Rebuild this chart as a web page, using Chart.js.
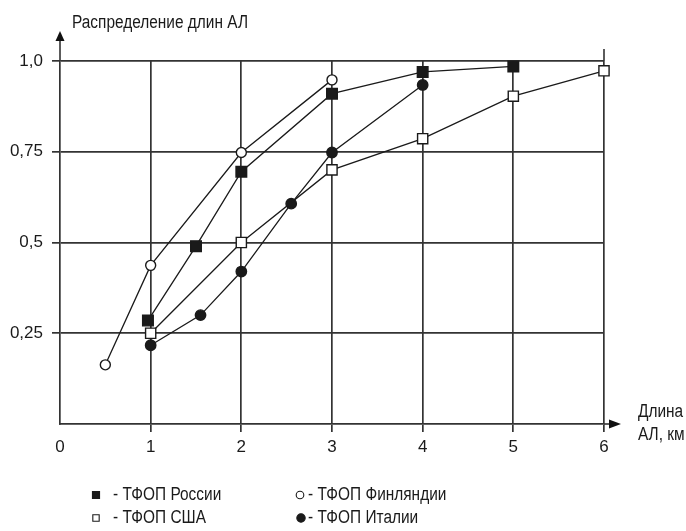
<!DOCTYPE html>
<html>
<head>
<meta charset="utf-8">
<script src="https://cdn.jsdelivr.net/npm/chart.js@4.4.1/dist/chart.umd.min.js"></script>
<style>
  html, body { margin: 0; padding: 0; background: #fff; }
  #chart { display: block; }
</style>
</head>
<body>
<canvas id="chart" width="686" height="531"></canvas>
<script>
// values
var russiaX = [0.97, 1.5, 2, 3, 4, 5];
var russiaY = [0.285, 0.49, 0.695, 0.91, 0.97, 0.985];
var finlandX = [0.5, 1, 2, 3];
var finlandY = [0.163, 0.437, 0.748, 0.948];
var usaX = [1, 2, 3, 4, 5, 6];
var usaY = [0.25, 0.5, 0.7, 0.786, 0.903, 0.973];
var italyX = [1, 1.55, 2, 2.55, 3, 4];
var italyY = [0.217, 0.3, 0.42, 0.607, 0.748, 0.934];

var yTickLabels = ['', '0,25', '0,5', '0,75', '1,0'];
var xTickLabels = ['0', '1', '2', '3', '4', '5', '6'];
var seriesNames = ['- ТФОП России', '- ТФОП Финляндии', '- ТФОП США', '- ТФОП Италии'];
var yTitle = 'Распределение длин АЛ';
var xTitle = ['Длина', 'АЛ, км'];

var FONT = '"Liberation Sans", Arial, sans-serif';
var gridColor = '#333333';
var lineColor = '#1a1a1a';

function toPoints(xs, ys) {
  return xs.map(function (x, i) { return { x: x, y: ys[i] }; });
}

function series(label, xs, ys, style, filled, radius) {
  return {
    label: label,
    data: toPoints(xs, ys),
    showLine: true,
    borderColor: lineColor,
    borderWidth: 1.3,
    pointStyle: style,
    pointRadius: radius,
    pointHoverRadius: radius,
    pointBackgroundColor: filled ? lineColor : '#ffffff',
    pointBorderColor: lineColor,
    pointBorderWidth: 1.4,
    tension: 0,
    clip: false
  };
}

// the original uses a condensed face, so squeeze our text a little
function narrowText(ctx, text, x, y, k) {
  ctx.save();
  ctx.translate(x, y);
  ctx.scale(k, 1);
  ctx.fillText(text, 0, 0);
  ctx.restore();
}

// arrows, titles and hand-placed legend
var decorations = {
  id: 'decorations',
  afterDraw: function (chart) {
    var ctx = chart.ctx;
    var xs = chart.scales.x, ys = chart.scales.y;
    var left = xs.getPixelForValue(0);
    var bottom = ys.getPixelForValue(0);
    var top = ys.getPixelForValue(1);
    var right = xs.getPixelForValue(6);
    ctx.save();
    ctx.strokeStyle = gridColor;
    ctx.fillStyle = '#111';
    ctx.lineWidth = 1.6;
    // y axis extension + arrow
    ctx.beginPath();
    ctx.moveTo(left, top);
    ctx.lineTo(left, 40);
    ctx.stroke();
    ctx.beginPath();
    ctx.moveTo(left, 31);
    ctx.lineTo(left - 4.5, 41);
    ctx.lineTo(left + 4.5, 41);
    ctx.closePath();
    ctx.fill();
    // x axis extension + arrow
    ctx.beginPath();
    ctx.moveTo(right, bottom);
    ctx.lineTo(610, bottom);
    ctx.stroke();
    ctx.beginPath();
    ctx.moveTo(621, bottom);
    ctx.lineTo(609, bottom - 4.5);
    ctx.lineTo(609, bottom + 4.5);
    ctx.closePath();
    ctx.fill();
    // last vertical line goes a bit higher
    ctx.beginPath();
    ctx.moveTo(right, top);
    ctx.lineTo(right, 49);
    ctx.stroke();

    // titles
    ctx.fillStyle = '#1a1a1a';
    ctx.font = '18px ' + FONT;
    ctx.textBaseline = 'middle';
    ctx.textAlign = 'left';
    var k = 176 / ctx.measureText(yTitle).width;
    narrowText(ctx, yTitle, 72, 23, k);
    narrowText(ctx, xTitle[0], 638, 412, k);
    narrowText(ctx, xTitle[1], 638, 435, k);

    // legend
    var ds = chart.data.datasets;
    var slots = [
      { i: 0, mx: 96, tx: 113, y: 495, r: 5 },
      { i: 1, mx: 300, tx: 308, y: 495, r: 3.8 },
      { i: 2, mx: 96, tx: 113, y: 518, r: 4.5 },
      { i: 3, mx: 301, tx: 308, y: 518, r: 4.2 }
    ];
    slots.forEach(function (s) {
      var d = ds[s.i];
      ctx.fillStyle = d.pointBackgroundColor;
      ctx.strokeStyle = d.pointBorderColor;
      ctx.lineWidth = 1.1;
      Chart.helpers.drawPoint(ctx, { pointStyle: d.pointStyle, radius: s.r, rotation: 0, borderWidth: 1.1 }, s.mx, s.y);
      ctx.fillStyle = '#1a1a1a';
      narrowText(ctx, seriesNames[s.i], s.tx, s.y, k);
    });
    ctx.restore();
  }
};

new Chart(document.getElementById('chart').getContext('2d'), {
  type: 'scatter',
  data: {
    datasets: [
      series(seriesNames[0], russiaX, russiaY, 'rect', true, 7.5),
      series(seriesNames[1], finlandX, finlandY, 'circle', false, 5),
      series(seriesNames[2], usaX, usaY, 'rect', false, 7.2),
      series(seriesNames[3], italyX, italyY, 'circle', true, 5.2)
    ]
  },
  options: {
    responsive: false,
    devicePixelRatio: 1,
    animation: false,
    layout: { padding: { left: 0, top: 61, right: 82, bottom: 67 } },
    plugins: {
      legend: { display: false },
      tooltip: { enabled: false }
    },
    scales: {
      x: {
        type: 'linear',
        min: 0,
        max: 6,
        afterFit: function (scale) { scale.height = 40; },
        border: { display: true, color: gridColor, width: 1.7 },
        grid: {
          color: function (c) { return c.tick && c.tick.value === 0 ? 'rgba(0,0,0,0)' : gridColor; },
          lineWidth: 1.7,
          tickLength: 8
        },
        ticks: {
          stepSize: 1,
          padding: 5,
          color: '#1a1a1a',
          font: { family: FONT, size: 17 },
          callback: function (v) { return xTickLabels[v]; }
        }
      },
      y: {
        type: 'linear',
        min: 0,
        max: 1,
        afterFit: function (scale) { scale.width = 60; },
        border: { display: true, color: gridColor, width: 1.7 },
        grid: {
          color: function (c) { return c.tick && c.tick.value === 0 ? 'rgba(0,0,0,0)' : gridColor; },
          lineWidth: 1.7,
          tickLength: 8
        },
        ticks: {
          stepSize: 0.25,
          padding: 9,
          color: '#1a1a1a',
          font: { family: FONT, size: 17 },
          callback: function (v) { return yTickLabels[Math.round(v * 4)]; }
        }
      }
    }
  },
  plugins: [decorations]
});
</script>
</body>
</html>
